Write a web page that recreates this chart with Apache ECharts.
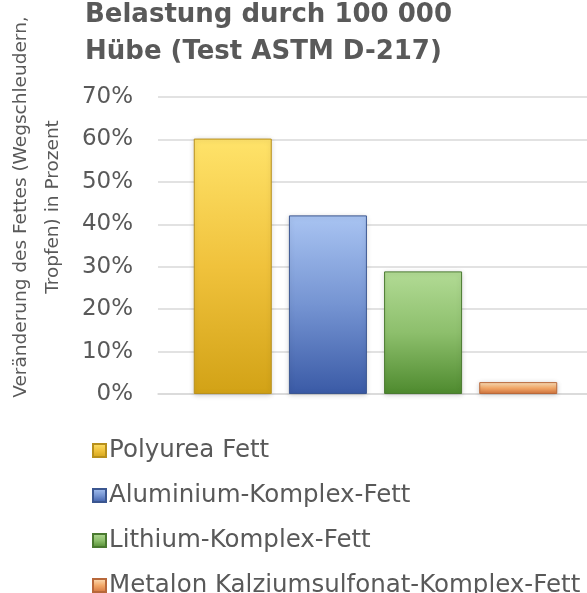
<!DOCTYPE html>
<html>
<head>
<meta charset="utf-8">
<style>html,body{margin:0;padding:0;background:#fff}#c{width:587px;height:593px}</style>
<script src="https://cdn.jsdelivr.net/npm/echarts@6/dist/echarts.min.js"></script>
</head>
<body>
<div id="c"></div>
<script>
const seriesNames = ['Polyurea Fett', 'Aluminium-Komplex-Fett', 'Lithium-Komplex-Fett', 'Metalon Kalziumsulfonat-Komplex-Fett'];
const seriesValues = [60.2, 42.1, 28.9, 2.8];
const categories = [''];
const yTicks = { min: 0, max: 70, interval: 10 };
const titleLines = ['Belastung durch 100 000', 'Hübe (Test ASTM D-217)'];
const yAxisTitleLines = ['Veränderung des Fettes (Wegschleudern,', 'Tropfen) in Prozent'];

const palettes = [
  { top: '#FFE36A', mid: '#F0C23C', bot: '#D2A216', edge: '#B8901C' },
  { top: '#A9C4F2', mid: '#7594D2', bot: '#3A5AA6', edge: '#3B5690' },
  { top: '#B2DB95', mid: '#8DBF6C', bot: '#4E8A2E', edge: '#4A7A30' },
  { top: '#FDE3BE', mid: '#F2A868', bot: '#D0703A', edge: '#B8683A' }
];

function grad(p) {
  return new echarts.graphic.LinearGradient(0, 0, 0, 1, [
    { offset: 0, color: p.top },
    { offset: 0.5, color: p.mid },
    { offset: 1, color: p.bot }
  ]);
}

const chart = echarts.init(document.getElementById('c'), null, { renderer: 'canvas' });
const txt = '#595959';
const font = '"DejaVu Sans", Verdana, sans-serif';

chart.setOption({
  animation: false,
  backgroundColor: '#ffffff',
  title: {
    text: titleLines.join('\n'),
    left: 80,
    top: -8,
    textStyle: { fontFamily: font, fontSize: 26, fontWeight: 'bold', color: txt, lineHeight: 37 }
  },
  legend: {
    orient: 'vertical',
    left: 92,
    top: 438,
    height: 170,
    padding: 0,
    itemWidth: 13,
    itemHeight: 13,
    itemGap: 20,
    icon: 'rect',
    data: seriesNames,
    textStyle: { fontFamily: font, fontSize: 24.5, color: txt, lineHeight: 24, padding: [0, 0, 0, -2] }
  },
  grid: { left: 158, right: -6, top: 97, bottom: 199, containLabel: false, outerBoundsMode: 'none' },
  xAxis: {
    type: 'category',
    data: categories,
    axisLine: { show: true, lineStyle: { color: '#d9d9d9', width: 1.5 } },
    axisTick: { show: false },
    axisLabel: { show: false }
  },
  yAxis: {
    type: 'value',
    min: yTicks.min,
    max: yTicks.max,
    interval: yTicks.interval,
    axisLine: { show: false },
    axisTick: { show: false },
    splitLine: { lineStyle: { color: '#d9d9d9', width: 1.5 } },
    axisLabel: { formatter: '{value}%', fontFamily: font, fontSize: 23, color: txt, margin: 25 }
  },
  graphic: [
    {
      type: 'text', x: 21, y: 207, rotation: Math.PI / 2,
      style: { text: yAxisTitleLines[0], fontFamily: font, fontSize: 18.5, fill: txt, align: 'center', verticalAlign: 'middle' }
    },
    {
      type: 'text', x: 53, y: 207, rotation: Math.PI / 2,
      style: { text: yAxisTitleLines[1], fontFamily: font, fontSize: 18.5, fill: txt, align: 'center', verticalAlign: 'middle' }
    }
  ],
  series: seriesNames.map((name, i) => ({
    name: name,
    type: 'bar',
    data: [seriesValues[i]],
    barWidth: 78,
    barGap: '22%',
    itemStyle: {
      color: grad(palettes[i]),
      borderColor: palettes[i].edge,
      borderWidth: 1,
      shadowBlur: 5,
      shadowColor: 'rgba(0,0,0,0.18)',
      shadowOffsetX: 0,
      shadowOffsetY: 1
    }
  }))
});
</script>
</body>
</html>
